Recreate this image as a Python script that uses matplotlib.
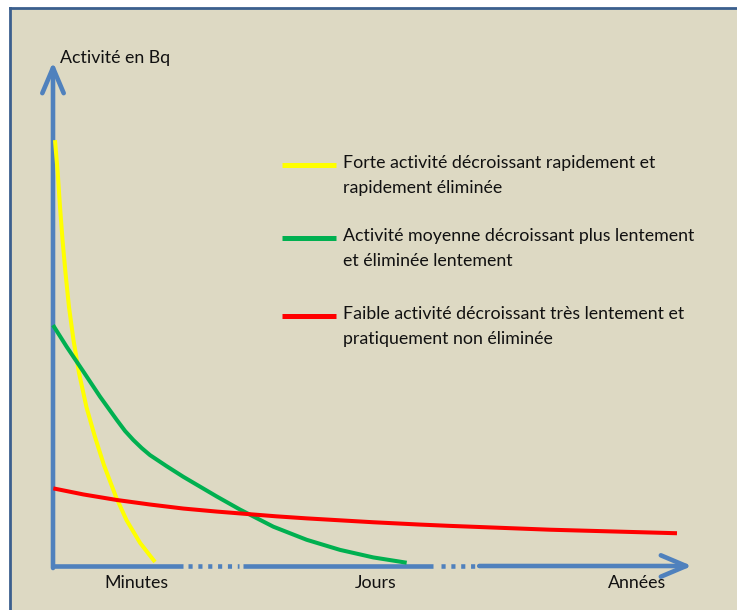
import matplotlib
matplotlib.use('Agg')
import matplotlib.pyplot as plt
from matplotlib.lines import Line2D
from matplotlib.patches import Rectangle

# ---------------- data (schematic) ----------------
yellow_x = [0.31, 0.74, 1.10, 1.49, 1.96, 2.50, 3.21, 4.07, 5.24, 6.57, 7.98,
            9.86, 11.50, 13.62, 15.96]
yellow_y = [84.5, 78.0, 71.2, 64.7, 58.1, 51.4, 44.8, 38.3, 31.5, 25.6, 20.0,
            13.7, 9.1, 4.6, 0.8]

green_x = [0.0, 2.14, 4.74, 7.36, 9.97, 11.27, 12.57, 13.88, 15.18, 17.79,
           20.39, 25.62, 29.26, 34.48, 39.70, 44.91, 50.13, 55.35]
green_y = [47.8, 43.5, 38.6, 33.6, 29.0, 26.8, 25.0, 23.4, 22.0, 19.8,
           17.7, 13.8, 11.2, 7.8, 5.2, 3.2, 1.7, 0.65]

red_x = [0.05, 4.74, 9.97, 15.18, 20.39, 25.62, 30.56, 35.0, 39.70, 50.13,
         57.43, 62.13, 77.78, 97.65]
red_y = [15.4, 14.2, 13.1, 12.2, 11.4, 10.8, 10.3, 9.85, 9.45, 8.68,
         8.22, 7.96, 7.20, 6.5]

series_labels = [
    "Forte activité décroissant rapidement et\nrapidement éliminée",
    "Activité moyenne décroissant plus lentement\net éliminée lentement",
    "Faible activité décroissant très lentement et\npratiquement non éliminée",
]
tick_labels = ["Minutes", "Jours", "Années"]
tick_pos = [13.1, 50.5, 91.4]
y_label = "Activité en Bq"

# ---------------- style ----------------
W, H = 737, 610
BG = '#ddd9c3'
BORDER = '#3b5f8e'
AXIS = '#4f81bd'
COLORS = ['#ffff00', '#00b050', '#ff0000']
FONT = ['Lato', 'DejaVu Sans']
TXT = '#111111'
FS = 12.8
plt.rcParams['font.family'] = FONT

fig = plt.figure(figsize=(W / 100, H / 100), dpi=100)
fig.patch.set_facecolor('white')
fig.add_artist(Rectangle((11 / W, 0), 1 - 11 / W, (H - 9) / H,
                         transform=fig.transFigure, facecolor=BG,
                         edgecolor='none', zorder=0))
fig.add_artist(Line2D([10 / W, 10 / W], [0, (H - 8) / H], color=BORDER, lw=2.0,
                      solid_capstyle='projecting'))
fig.add_artist(Line2D([10 / W, 1], [(H - 8) / H, (H - 8) / H], color=BORDER, lw=2.0,
                      solid_capstyle='projecting'))

ax = fig.add_axes([53 / W, (H - 566) / H, (692 - 53) / W, (566 - 62) / H])
ax.set_xlim(0, 100)
ax.set_ylim(0, 100)
ax.axis('off')
ax.patch.set_alpha(0)

AX_LW = 3.3
ARROW = dict(arrowstyle='->,head_length=1.3,head_width=0.55',
             lw=AX_LW, color=AXIS, mutation_scale=14, shrinkA=0, shrinkB=0)
# y axis with arrow
ax.annotate('', xy=(0, 100), xytext=(0, -0.4), arrowprops=ARROW, annotation_clip=False)
# x axis: solid / dotted / solid / dotted / solid+arrow
ax.plot([-0.3, 20.3], [0, 0], color=AXIS, lw=AX_LW, solid_capstyle='butt', clip_on=False)
ax.plot([21.1, 29.1], [0, 0], color=AXIS, lw=AX_LW, linestyle=(0, (0.9, 1.25)),
        dash_capstyle='butt', clip_on=False)
ax.plot([29.7, 59.5], [0, 0], color=AXIS, lw=AX_LW, solid_capstyle='butt', clip_on=False)
ax.plot([60.7, 66.0], [0, 0], color=AXIS, lw=AX_LW, linestyle=(0, (0.9, 1.25)),
        dash_capstyle='butt', clip_on=False)
ax.annotate('', xy=(100, 0), xytext=(66.7, 0), arrowprops=ARROW, annotation_clip=False)

CURVE_LW = 2.9
for xs, ys, col in [(yellow_x, yellow_y, COLORS[0]),
                    (green_x, green_y, COLORS[1]),
                    (red_x, red_y, COLORS[2])]:
    ax.plot(xs, ys, color=col, lw=CURVE_LW, clip_on=False, zorder=3,
            solid_joinstyle='round', solid_capstyle='butt')

label_y = -(583 - 566) / (566 - 62)
for lab, xp in zip(tick_labels, tick_pos):
    ax.text(xp, label_y, lab, transform=ax.get_xaxis_transform(), ha='center',
            va='center', fontsize=FS, color=TXT)

fig.text(60 / W, 1 - 58 / H, y_label, ha='left', va='center', fontsize=FS, color=TXT)

# legend
leg_y = [165, 238, 316]
for lab, col, yl in zip(series_labels, COLORS, leg_y):
    fig.add_artist(Line2D([282 / W, 336 / W], [1 - yl / H, 1 - yl / H], color=col, lw=3.6,
                          solid_capstyle='butt'))
    for i, ln in enumerate(lab.split('\n')):
        fig.text(343 / W, 1 - (yl - 2 + i * 25) / H, ln, ha='left', va='center',
                 fontsize=FS, color=TXT)

fig.savefig('out.png', dpi=100, facecolor='white')
